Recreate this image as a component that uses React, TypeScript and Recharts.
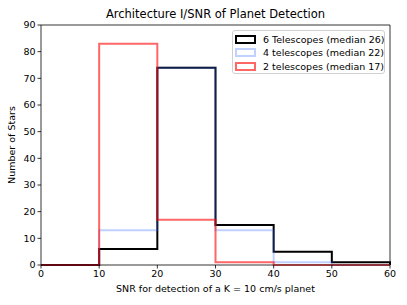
import { LineChart, Line, XAxis, YAxis, ReferenceLine } from "recharts";

// histogram bins: SNR edges and star counts per configuration
const binEdges = [0, 10, 20, 30, 40, 50, 60];
const sixTelescopes = [0, 6, 74, 15, 5, 1];
const fourTelescopes = [0, 13, 74, 13, 1, 0];
const twoTelescopes = [0, 83, 17, 1, 0, 0];
const xTicks = [0, 10, 20, 30, 40, 50, 60];
const yTicks = [0, 10, 20, 30, 40, 50, 60, 70, 80, 90];

const series = [
  { key: "six", label: "6 Telescopes (median 26)", color: "#000000", opacity: 1 },
  { key: "four", label: "4 telescopes (median 22)", color: "#3366ff", opacity: 0.3 },
  { key: "two", label: "2 telescopes (median 17)", color: "#ff0000", opacity: 0.6 },
];

// step outline: one point per left edge, then the last right edge, then back down to 0
const rows = binEdges.slice(0, -1).map((x, i) => ({
  x,
  six: sixTelescopes[i],
  four: fourTelescopes[i],
  two: twoTelescopes[i],
}));
const last = rows.length - 1;
rows.push({ x: binEdges[binEdges.length - 1], six: sixTelescopes[last], four: fourTelescopes[last], two: twoTelescopes[last] });
rows.push({ x: binEdges[binEdges.length - 1], six: 0, four: 0, two: 0 });

const font = "'DejaVu Sans', sans-serif";
const small = 9.5;
const tickStyle = { fontSize: small, fill: "#000", fontFamily: font };

export default function App() {
  return (
    <div style={{ position: "absolute", left: 0, top: 0, width: 407, height: 305, background: "#fff", fontFamily: font }}>
      <LineChart width={407} height={305} data={rows} margin={{ top: 25, right: 17, bottom: 0, left: 0 }}>
        <XAxis
          dataKey="x"
          type="number"
          domain={[0, 60]}
          ticks={xTicks}
          tick={tickStyle}
          tickSize={3.5}
          height={40}
          stroke="#000"
          axisLine={{ stroke: "#000", strokeWidth: 0.8 }}
          tickLine={{ stroke: "#000", strokeWidth: 0.8 }}
        />
        <YAxis
          type="number"
          domain={[0, 90]}
          ticks={yTicks}
          tick={tickStyle}
          tickSize={3.5}
          width={41}
          axisLine={{ stroke: "#000", strokeWidth: 0.8 }}
          tickLine={{ stroke: "#000", strokeWidth: 0.8 }}
        />
        <ReferenceLine y={90} stroke="#000" strokeWidth={0.8} />
        <ReferenceLine x={60} stroke="#000" strokeWidth={0.8} />
        {series.map((s) => (
          <Line
            key={s.key}
            dataKey={s.key}
            type="stepAfter"
            stroke={s.color}
            strokeOpacity={s.opacity}
            strokeWidth={2}
            strokeLinejoin="miter"
            dot={false}
            activeDot={false}
            isAnimationActive={false}
          />
        ))}
      </LineChart>

      <div style={{ position: "absolute", left: 41, width: 349, top: 7, textAlign: "center", fontSize: 11.5, lineHeight: "14px" }}>
        Architecture I/SNR of Planet Detection
      </div>
      <div style={{ position: "absolute", left: 41, width: 349, top: 283, textAlign: "center", fontSize: small, lineHeight: "12px" }}>
        SNR for detection of a K = 10 cm/s planet
      </div>
      <div
        style={{
          position: "absolute",
          left: 12,
          top: 145,
          transform: "translate(-50%, -50%) rotate(-90deg)",
          whiteSpace: "nowrap",
          fontSize: small,
          lineHeight: "12px",
        }}
      >
        Number of Stars
      </div>

      <div
        style={{
          position: "absolute",
          left: 232,
          top: 30,
          width: 153,
          height: 44,
          boxSizing: "border-box",
          border: "1px solid #d0d0d0",
          borderRadius: 3,
          background: "rgba(255,255,255,0.8)",
          fontSize: small,
        }}
      >
        {series.map((s, i) => (
          <div key={s.key} style={{ position: "absolute", left: 2, top: 2 + i * 13.5, height: 12, display: "flex", alignItems: "center", whiteSpace: "nowrap" }}>
            <span
              style={{
                display: "inline-block",
                width: 17,
                height: 5,
                border: `2px solid ${s.color}`,
                opacity: s.opacity,
                marginRight: 7,
              }}
            />
            <span>{s.label}</span>
          </div>
        ))}
      </div>
    </div>
  );
}
